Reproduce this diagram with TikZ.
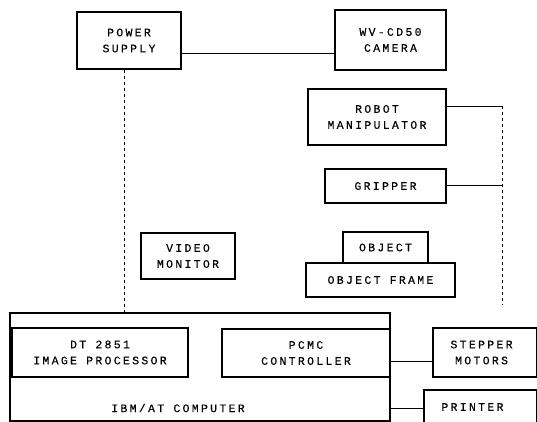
\documentclass[tikz,border=0pt]{standalone}
\usepackage{fontspec}
\newfontfamily\dotfont[LetterSpace=20,FakeBold=0.15]{Liberation Mono}
\begin{document}
\begin{tikzpicture}[x=1pt,y=-1pt,
  blk/.style={draw,line width=1.2pt,inner sep=0pt,align=center,font=\dotfont\fontsize{11.5}{16}\selectfont},
  txt/.style={inner sep=0pt,align=center,font=\dotfont\fontsize{11.5}{16}\selectfont},
  wire/.style={line width=0.7pt},
  dwire/.style={line width=0.6pt,dash pattern=on 3pt off 3pt}]
\useasboundingbox (0,0) rectangle (537,422);
\node[blk,minimum width=104pt,minimum height=57pt] (power) at (129,40.5) {POWER\\SUPPLY};
\node[blk,minimum width=111pt,minimum height=60pt] (camera) at (390.5,40) {WV-CD50\\CAMERA};
\node[blk,minimum width=138pt,minimum height=56pt] (robot) at (377,117) {ROBOT\\MANIPULATOR};
\node[blk,minimum width=121pt,minimum height=34pt] (gripper) at (385.5,186) {GRIPPER};
\node[blk,minimum width=94pt,minimum height=46pt] (video) at (188,256) {VIDEO\\MONITOR};
\node[blk,minimum width=85pt,minimum height=31pt] (object) at (385.5,247.5) {OBJECT};
\node[blk,minimum width=149pt,minimum height=34pt] (frame) at (380.5,280) {OBJECT FRAME};
\node[blk,minimum width=380pt,minimum height=108pt] (computer) at (200,367) {};
\node[txt] (complabel) at (178,408) {IBM/AT COMPUTER};
\node[blk,minimum width=176pt,minimum height=49pt] (dt) at (100,352.5) {DT 2851\\IMAGE PROCESSOR};
\node[blk,minimum width=168pt,minimum height=48pt] (pcmc) at (306,353) {PCMC\\CONTROLLER};
\node[blk,minimum width=104pt,minimum height=49pt] (stepper) at (485,352.5) {STEPPER\hphantom{X}\\MOTORS\hphantom{X}};
\node[blk,minimum width=113pt,minimum height=34pt] (printer) at (480.5,407) {PRINTER\hphantom{XX}};
\coordinate (rtop) at (502,106);
\coordinate (rbot) at (502,305);
\draw[wire] ([yshift=-12.5pt]power.east) -- ([yshift=-12.5pt]power.east -| camera.west);
\draw[dwire] ([xshift=-5pt]power.south) -- ([xshift=-5pt]power.south |- computer.north);
\draw[wire] (robot.east |- rtop) -- (rtop);
\draw[dwire] (rtop) -- (rbot);
\draw[wire] ([yshift=1pt]gripper.east) -- ([yshift=1pt]gripper.east -| rtop);
\draw[wire] ([yshift=-8pt]pcmc.east) -- ([yshift=-8pt]pcmc.east -| stepper.west);
\draw[wire] (computer.east |- complabel) -- (printer.west |- complabel);
\end{tikzpicture}
\end{document}
